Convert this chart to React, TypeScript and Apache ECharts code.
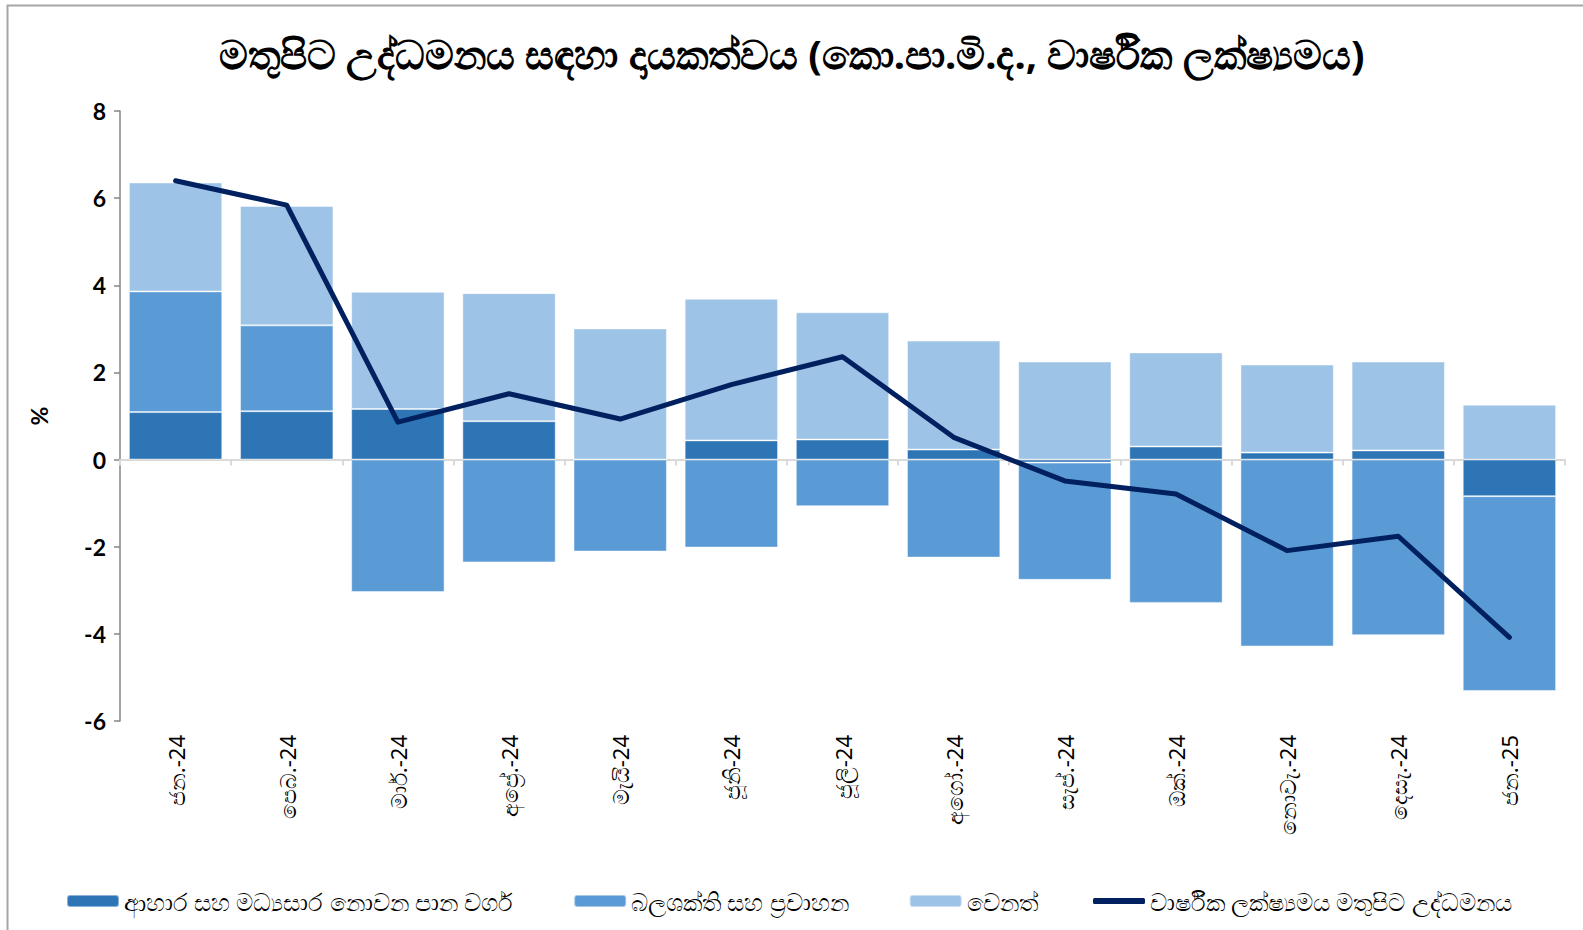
import React, { useEffect, useRef } from "react";
import * as echarts from "echarts";

const categories = [
  "ජන.-24", "පෙබ.-24", "මාර්.-24", "අප්‍රේ.-24", "මැයි-24", "ජූනි-24", "ජූලි-24",
  "අගෝ.-24", "සැප්.-24", "ඔක්.-24", "නොවැ.-24", "දෙසැ.-24", "ජන.-25",
];
const foodValues = [1.09, 1.11, 1.16, 0.88, 0, 0.44, 0.46, 0.23, -0.07, 0.30, 0.16, 0.21, -0.84];
const energyValues = [2.77, 1.97, -3.04, -2.36, -2.11, -2.02, -1.07, -2.25, -2.69, -3.29, -4.29, -4.03, -4.47];
const otherValues = [2.50, 2.74, 2.69, 2.94, 3.01, 3.25, 2.92, 2.50, 2.25, 2.16, 2.02, 2.04, 1.26];
const headlineValues = [6.40, 5.84, 0.86, 1.51, 0.93, 1.72, 2.36, 0.51, -0.49, -0.79, -2.09, -1.76, -4.08];

const seriesNames = [
  "ආහාර සහ මධ්‍යසාර නොවන පාන වර්ග",
  "බලශක්ති සහ ප්‍රවාහන",
  "වෙනත්",
  "වාර්ෂික ලක්ෂ්‍යමය මතුපිට උද්ධමනය",
];
const titleText = "මතුපිට උද්ධමනය සඳහා දායකත්වය (කො.පා.මි.ද., වාර්ෂික ලක්ෂ්‍යමය)";

export default function App() {
  const ref = useRef<HTMLDivElement>(null);
  useEffect(() => {
    if (!ref.current) return;
    const chart = echarts.init(ref.current, undefined, { renderer: "svg" });
    const barBase = {
      type: "bar",
      stack: "total",
      barCategoryGap: "16%",
      xAxisIndex: 0,
      itemStyle: { borderColor: "rgba(255,255,255,0.45)", borderWidth: 1 },
    };
    const legendText = { fontSize: 24, color: "#000", fontFamily: "'Noto Sans', sans-serif" };
    chart.setOption({
      animation: false,
      backgroundColor: "#ffffff",
      graphic: [
        {
          type: "rect",
          shape: { x: 7.5, y: 5.5, width: 1700, height: 1100 },
          style: { fill: "none", stroke: "#a6a6a6", lineWidth: 2 },
          silent: true,
        },
      ],
      title: {
        text: titleText,
        left: "center",
        top: 28,
        textStyle: {
          fontSize: 40,
          fontWeight: "bold",
          color: "#000",
          fontFamily: "'Noto Sans', sans-serif",
        },
      },
      legend: [
        {
          top: 889,
          left: 66,
          padding: 0,
          itemGap: 60,
          itemWidth: 52,
          itemHeight: 12,
          textStyle: legendText,
          data: seriesNames.slice(0, 3),
        },
        {
          top: 889,
          left: 1093,
          padding: 0,
          itemWidth: 52,
          itemHeight: 6,
          icon: "roundRect",
          textStyle: legendText,
          data: [{ name: seriesNames[3], itemStyle: { color: "#002060" } }],
        },
      ],
      grid: { left: 120, right: 18, top: 111, bottom: 209, containLabel: false },
      xAxis: [
        {
          type: "category",
          data: categories,
          position: "bottom",
          axisLine: { show: false, onZero: false },
          axisTick: { show: false },
          axisLabel: {
            rotate: 90,
            margin: 14,
            fontSize: 22,
            color: "#000",
            fontFamily: "'Noto Sans', sans-serif",
          },
        },
        {
          type: "category",
          data: categories,
          position: "bottom",
          axisLine: { show: true, onZero: true, lineStyle: { color: "#d9d9d9", width: 2 } },
          axisTick: { show: true, length: 6, lineStyle: { color: "#d9d9d9", width: 2 } },
          axisLabel: { show: false },
        },
      ],
      yAxis: {
        type: "value",
        min: -6,
        max: 8,
        interval: 2,
        name: "%",
        nameLocation: "middle",
        nameGap: 70,
        nameTextStyle: { fontSize: 23, color: "#000", fontFamily: "Lato, sans-serif", fontWeight: "bold" },
        splitLine: { show: false },
        axisLine: { show: true, lineStyle: { color: "#868686", width: 1.5 } },
        axisTick: { show: true, length: 6, lineStyle: { color: "#868686", width: 1.5 } },
        axisLabel: {
          fontSize: 23,
          color: "#000",
          margin: 14,
          fontFamily: "Lato, sans-serif",
          fontWeight: "bold",
        },
      },
      series: [
        { ...barBase, name: seriesNames[0], data: foodValues, itemStyle: { ...barBase.itemStyle, color: "#2E75B6" } },
        { ...barBase, name: seriesNames[1], data: energyValues, itemStyle: { ...barBase.itemStyle, color: "#5B9BD5" } },
        { ...barBase, name: seriesNames[2], data: otherValues, itemStyle: { ...barBase.itemStyle, color: "#9DC3E6" } },
        {
          type: "line",
          name: seriesNames[3],
          data: headlineValues,
          xAxisIndex: 0,
          symbol: "none",
          showSymbol: false,
          lineStyle: { color: "#002060", width: 5, cap: "round", join: "round" },
          itemStyle: { color: "#002060" },
          z: 5,
        },
      ],
    });
    return () => chart.dispose();
  }, []);
  return (
    <div
      ref={ref}
      style={{ position: "absolute", left: 0, top: 0, width: 1583, height: 930 }}
    />
  );
}
